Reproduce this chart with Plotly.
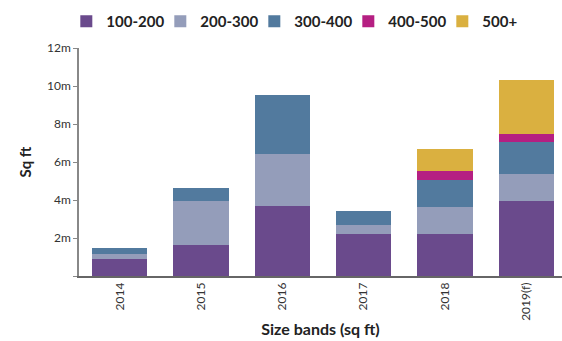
import plotly.graph_objects as go

years = ["2014", "2015", "2016", "2017", "2018", "2019(f)"]
series_names = ["100-200", "200-300", "300-400", "400-500", "500+"]
v_100_200 = [0.88, 1.62, 3.67, 2.20, 2.20, 3.94]
v_200_300 = [0.26, 2.32, 2.75, 0.47, 1.42, 1.42]
v_300_400 = [0.32, 0.68, 3.12, 0.74, 1.43, 1.69]
v_400_500 = [0, 0, 0, 0, 0.47, 0.43]
v_500_plus = [0, 0, 0, 0, 1.16, 2.85]
colors = ["#6a4a8c", "#949dba", "#527a9e", "#b51f82", "#dab040"]
y_ticks = [0, 2, 4, 6, 8, 10, 12]
y_tick_labels = ["", "2m", "4m", "6m", "8m", "10m", "12m"]

values = [v_100_200, v_200_300, v_300_400, v_400_500, v_500_plus]

fig = go.Figure()
for name, vals, col in zip(series_names, values, colors):
    fig.add_trace(go.Bar(x=years, y=vals, name=name, marker=dict(color=col, line=dict(width=0)), width=0.68))

fig.update_layout(
    barmode="stack",
    width=562, height=341,
    margin=dict(l=79, r=0, t=48, b=65),
    paper_bgcolor="white", plot_bgcolor="white",
    font=dict(family="Lato, Open Sans, sans-serif", color="#333333", size=11),
    legend=dict(orientation="h", x=0.118, xref="container", xanchor="left", y=0.985, yref="container", yanchor="top",
                font=dict(size=15, color="#222222", family="Lato, sans-serif", weight="bold"),
                entrywidth=49, itemwidth=30, traceorder="normal"),
    showlegend=True,
)
fig.update_xaxes(range=[-0.5, 5.44], showline=True, linecolor="#666666", linewidth=1.5,
                 ticks="", tickangle=-90, tickfont=dict(size=12, color="#333333"),
                 title=dict(text="<b>Size bands (sq ft)</b>", font=dict(size=16, color="#222222"), standoff=4),
                 showgrid=False)
fig.update_yaxes(range=[0, 12], tickvals=y_ticks, ticktext=y_tick_labels, showline=True,
                 linecolor="#888888", linewidth=1.5, ticks="outside", ticklen=4, tickcolor="#888888",
                 tickfont=dict(size=12, color="#333333"), showgrid=False, zeroline=False,
                 title=dict(text="<b>Sq ft</b>", font=dict(size=15, color="#222222"), standoff=12))

fig.write_html("out.html")
